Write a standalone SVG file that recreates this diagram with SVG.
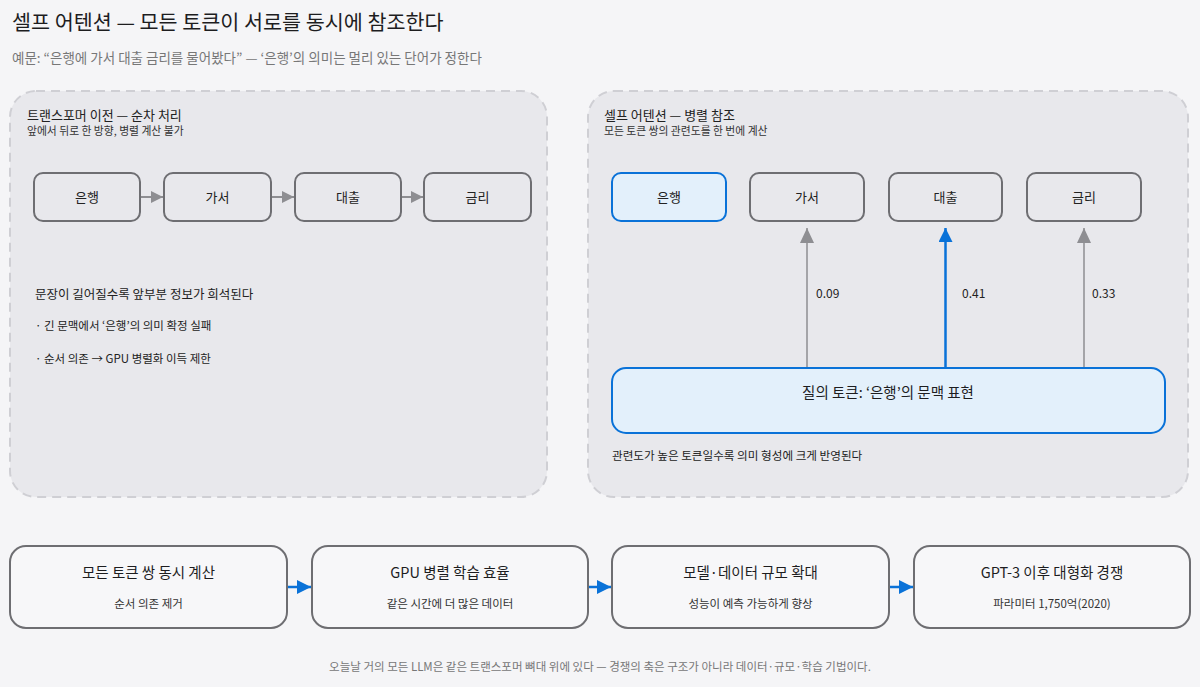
<svg xmlns="http://www.w3.org/2000/svg" width="1200" height="687" viewBox="0 0 1200 687">
<defs>
<style>
text{font-family:"Noto Sans CJK KR","Noto Sans",sans-serif;fill:#222}
.title{font-size:20.7px;fill:#1d1d1f}
.sub{font-size:13.5px;fill:#777}
.ptitle{font-size:13px;fill:#222}
.psub{font-size:10.8px;fill:#333}
.panel{fill:#e8e8ec;stroke:#cfcfd4;stroke-width:2;stroke-dasharray:9 6}
.node{fill:#e8e8ec;stroke:#6e6e72;stroke-width:2}
.hl{fill:#e3f0fb;stroke:#0a72d8;stroke-width:2}
.ntext{font-size:13px;text-anchor:middle;fill:#222}
.body{font-size:12.5px;fill:#222}
.small{font-size:11.5px;fill:#222}
.lbl{font-size:12px;fill:#222}
.gline{stroke:#8e8e92;stroke-width:1.5;fill:none}
.bline{stroke:#0a72d8;stroke-width:2.5;fill:none}
.bnode{fill:#f7f7f9;stroke:#6e6e72;stroke-width:2}
.btitle{font-size:14.5px;text-anchor:middle;fill:#1d1d1f}
.bsub{font-size:11.5px;text-anchor:middle;fill:#333}
.foot{font-size:11.5px;text-anchor:middle;fill:#777}
</style>
<marker id="ag" viewBox="0 0 10 10" refX="10" refY="5" markerWidth="12" markerHeight="12" markerUnits="userSpaceOnUse" orient="auto"><path d="M0,0L10,5L0,10z" fill="#8e8e92"/></marker>
<marker id="ag2" viewBox="0 0 10 10" refX="10" refY="5" markerWidth="15" markerHeight="14" markerUnits="userSpaceOnUse" orient="auto" preserveAspectRatio="none"><path d="M0,0L10,5L0,10z" fill="#8e8e92"/></marker>
<marker id="ab" viewBox="0 0 10 10" refX="10" refY="5" markerWidth="14" markerHeight="14" markerUnits="userSpaceOnUse" orient="auto"><path d="M0,0L10,5L0,10z" fill="#0a72d8"/></marker>
</defs>
<rect width="1200" height="687" fill="#f5f5f7"/>
<text class="title" x="12" y="30">셀프 어텐션 — 모든 토큰이 서로를 동시에 참조한다</text>
<text class="sub" x="12" y="63">예문: “은행에 가서 대출 금리를 물어봤다” — ‘은행’의 의미는 멀리 있는 단어가 정한다</text>

<g id="panel-left">
<rect class="panel" x="10" y="91" width="537" height="406" rx="26"/>
<text class="ptitle" x="27" y="120">트랜스포머 이전 — 순차 처리</text>
<text class="psub" x="27" y="135">앞에서 뒤로 한 방향, 병렬 계산 불가</text>
<text class="body" x="35" y="299">문장이 길어질수록 앞부분 정보가 희석된다</text>
<text class="small" x="35" y="330">· 긴 문맥에서 ‘은행’의 의미 확정 실패</text>
<text class="small" x="35" y="363">· 순서 의존 → GPU 병렬화 이득 제한</text>
</g>
<g id="l-bank"><rect class="node" x="34" y="173" width="106" height="48" rx="9"/><text class="ntext" x="87" y="202">은행</text></g>
<g id="l-gaseo"><rect class="node" x="164" y="173" width="107" height="48" rx="9"/><text class="ntext" x="217.5" y="202">가서</text></g>
<g id="l-loan"><rect class="node" x="295" y="173" width="106" height="48" rx="9"/><text class="ntext" x="348" y="202">대출</text></g>
<g id="l-rate"><rect class="node" x="424" y="173" width="107" height="48" rx="9"/><text class="ntext" x="477.5" y="202">금리</text></g>

<g id="panel-right">
<rect class="panel" x="588" y="91" width="600" height="406" rx="26"/>
<text class="ptitle" x="604" y="120">셀프 어텐션 — 병렬 참조</text>
<text class="psub" x="604" y="135">모든 토큰 쌍의 관련도를 한 번에 계산</text>
<text x="612" y="460" style="font-size:11.6px;fill:#222">관련도가 높은 토큰일수록 의미 형성에 크게 반영된다</text>
</g>
<g id="r-bank"><rect class="hl" x="612" y="173" width="114" height="48" rx="9"/><text class="ntext" x="669" y="202">은행</text></g>
<g id="r-gaseo"><rect class="node" x="750" y="173" width="114" height="48" rx="9"/><text class="ntext" x="807" y="202">가서</text></g>
<g id="r-loan"><rect class="node" x="889" y="173" width="113" height="48" rx="9"/><text class="ntext" x="945.5" y="202">대출</text></g>
<g id="r-rate"><rect class="node" x="1027" y="173" width="114" height="48" rx="9"/><text class="ntext" x="1084" y="202">금리</text></g>
<g id="query"><rect class="hl" x="612" y="368" width="553" height="65" rx="14"/><text x="888" y="398" style="font-size:14.5px;text-anchor:middle;fill:#1d1d1f">질의 토큰: ‘은행’의 문맥 표현</text></g>

<g id="b1"><rect class="bnode" x="10" y="546" width="277" height="82" rx="16"/><text class="btitle" x="148.5" y="578">모든 토큰 쌍 동시 계산</text><text class="bsub" x="148.5" y="608">순서 의존 제거</text></g>
<g id="b2"><rect class="bnode" x="312" y="546" width="276" height="82" rx="16"/><text class="btitle" x="450" y="578">GPU 병렬 학습 효율</text><text class="bsub" x="450" y="608">같은 시간에 더 많은 데이터</text></g>
<g id="b3"><rect class="bnode" x="612" y="546" width="277" height="82" rx="16"/><text class="btitle" x="750.5" y="578">모델·데이터 규모 확대</text><text class="bsub" x="750.5" y="608">성능이 예측 가능하게 향상</text></g>
<g id="b4"><rect class="bnode" x="914" y="546" width="276" height="82" rx="16"/><text class="btitle" x="1052" y="578">GPT-3 이후 대형화 경쟁</text><text class="bsub" x="1052" y="608">파라미터 1,750억(2020)</text></g>

<g id="connectors">
<line class="gline" x1="141" y1="197" x2="163" y2="197" marker-end="url(#ag)" style="stroke-width:2"/>
<line class="gline" x1="272" y1="197" x2="294" y2="197" marker-end="url(#ag)" style="stroke-width:2"/>
<line class="gline" x1="402" y1="197" x2="423" y2="197" marker-end="url(#ag)" style="stroke-width:2"/>
<line class="gline" x1="807" y1="367" x2="807" y2="228" marker-end="url(#ag2)"/>
<line class="bline" x1="945.5" y1="367" x2="945.5" y2="228" marker-end="url(#ab)"/>
<line class="gline" x1="1084" y1="367" x2="1084" y2="228" marker-end="url(#ag2)"/>
<text class="lbl" x="816" y="298">0.09</text>
<text class="lbl" x="962" y="298">0.41</text>
<text class="lbl" x="1092" y="298">0.33</text>
<line class="bline" x1="288" y1="587" x2="311" y2="587" marker-end="url(#ab)"/>
<line class="bline" x1="589" y1="587" x2="611" y2="587" marker-end="url(#ab)"/>
<line class="bline" x1="890" y1="587" x2="913" y2="587" marker-end="url(#ab)"/>
</g>
<text class="foot" x="600" y="671">오늘날 거의 모든 LLM은 같은 트랜스포머 뼈대 위에 있다 — 경쟁의 축은 구조가 아니라 데이터·규모·학습 기법이다.</text>
</svg>
